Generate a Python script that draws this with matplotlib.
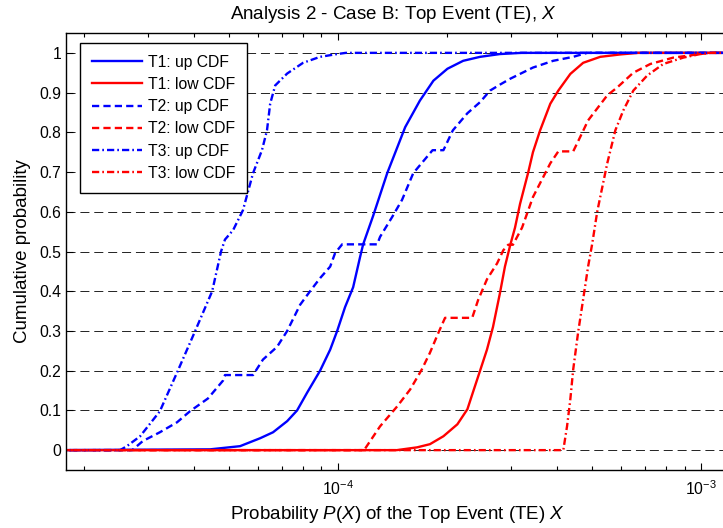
import matplotlib
matplotlib.use("Agg")
import matplotlib.pyplot as plt
from matplotlib.ticker import LogLocator, NullFormatter, FixedLocator, FixedFormatter

plt.rcParams['font.family'] = ['Liberation Sans', 'DejaVu Sans']
plt.rcParams['mathtext.fontset'] = 'custom'
plt.rcParams['mathtext.rm'] = 'Liberation Sans'
plt.rcParams['mathtext.it'] = 'Liberation Sans:italic'
plt.rcParams['lines.scale_dashes'] = False

# ---- data ----
t1_up_x = [1.7e-5, 4.44e-5, 5.37e-5, 6.10e-5, 6.62e-5, 7.24e-5, 7.71e-5, 8.22e-5, 8.92e-5, 9.51e-5,
           9.94e-5, 1.045e-4, 1.10e-4, 1.15e-4, 1.172e-4, 1.249e-4, 1.365e-4, 1.53e-4, 1.68e-4,
           1.83e-4, 2.00e-4, 2.21e-4, 2.46e-4, 2.79e-4, 3.2e-4, 1.3e-3]
t1_up_y = [0, 0.002, 0.01, 0.03, 0.045, 0.073, 0.10, 0.145, 0.20, 0.253, 0.30, 0.36, 0.41, 0.487,
           0.518, 0.59, 0.697, 0.813, 0.88, 0.93, 0.96, 0.98, 0.99, 0.997, 1.0, 1.0]

t1_low_x = [1.7e-5, 1.45e-4, 1.65e-4, 1.79e-4, 1.95e-4, 2.13e-4, 2.27e-4, 2.35e-4, 2.46e-4, 2.57e-4,
            2.67e-4, 2.79e-4, 2.88e-4, 2.98e-4, 3.07e-4, 3.17e-4, 3.34e-4, 3.44e-4, 3.60e-4, 3.84e-4,
            4.04e-4, 4.36e-4, 4.73e-4, 5.27e-4, 5.98e-4, 6.7e-4, 1.3e-3]
t1_low_y = [0, 0, 0.007, 0.015, 0.035, 0.065, 0.103, 0.145, 0.20, 0.253, 0.31, 0.395, 0.462, 0.517,
            0.56, 0.62, 0.70, 0.75, 0.805, 0.872, 0.905, 0.947, 0.975, 0.99, 0.996, 1.0, 1.0]

t2_up_x = [1.7e-5, 2.71e-5, 2.90e-5, 3.23e-5, 3.60e-5, 3.91e-5, 4.38e-5, 4.82e-5, 4.88e-5, 5.83e-5,
           6.21e-5, 6.79e-5, 7.24e-5, 7.86e-5, 8.37e-5, 8.92e-5, 9.51e-5, 9.81e-5, 1.026e-4, 1.281e-4,
           1.305e-4, 1.409e-4, 1.50e-4, 1.61e-4, 1.82e-4, 1.95e-4, 2.07e-4, 2.27e-4, 2.46e-4, 2.62e-4,
           2.79e-4, 2.98e-4, 3.44e-4, 3.91e-4, 4.44e-4, 4.85e-4, 1.3e-3]
t2_up_y = [0, 0, 0.023, 0.045, 0.07, 0.098, 0.13, 0.175, 0.189, 0.189, 0.228, 0.26, 0.30, 0.366,
           0.40, 0.433, 0.462, 0.496, 0.518, 0.518, 0.537, 0.587, 0.63, 0.697, 0.755, 0.755, 0.805,
           0.848, 0.876, 0.905, 0.92, 0.935, 0.963, 0.98, 0.99, 1.0, 1.0]

t2_low_x = [1.7e-5, 1.179e-4, 1.305e-4, 1.454e-4, 1.58e-4, 1.70e-4, 1.79e-4, 1.89e-4, 1.97e-4,
            2.34e-4, 2.43e-4, 2.57e-4, 2.74e-4, 2.85e-4, 2.94e-4, 3.03e-4, 3.21e-4, 3.44e-4,
            3.67e-4, 3.84e-4, 4.04e-4, 4.44e-4, 4.64e-4, 4.88e-4, 5.17e-4, 5.51e-4, 5.87e-4,
            6.50e-4, 7.24e-4, 8.37e-4, 9.75e-4, 1.05e-3, 1.3e-3]
t2_low_y = [0, 0, 0.06, 0.11, 0.153, 0.203, 0.245, 0.296, 0.333, 0.333, 0.378, 0.43, 0.47, 0.503,
            0.517, 0.517, 0.56, 0.637, 0.687, 0.722, 0.752, 0.752, 0.788, 0.83, 0.86, 0.893, 0.913,
            0.95, 0.972, 0.988, 0.996, 1.0, 1.0]

t3_up_x = [1.7e-5, 2.51e-5, 2.62e-5, 2.85e-5, 3.23e-5, 3.62e-5, 4.04e-5, 4.50e-5, 4.76e-5, 4.88e-5,
           5.14e-5, 5.47e-5, 5.83e-5, 6.17e-5, 6.37e-5, 6.50e-5, 6.71e-5, 7.24e-5, 8.01e-5, 8.92e-5,
           9.94e-5, 1.05e-4, 1.3e-3]
t3_up_y = [0, 0, 0.01, 0.035, 0.098, 0.2, 0.3, 0.4, 0.5, 0.53, 0.554, 0.604, 0.697, 0.755, 0.805,
           0.872, 0.918, 0.948, 0.975, 0.99, 0.997, 1.0, 1.0]

t3_low_x = [1.7e-5, 4.17e-4, 4.27e-4, 4.36e-4, 4.44e-4, 4.58e-4, 4.73e-4, 4.88e-4, 5.01e-4, 5.17e-4,
            5.27e-4, 5.51e-4, 5.80e-4, 6.10e-4, 6.50e-4, 7.10e-4, 7.86e-4, 8.92e-4, 9.94e-4,
            1.06e-3, 1.3e-3]
t3_low_y = [0, 0, 0.06, 0.128, 0.203, 0.296, 0.38, 0.462, 0.52, 0.60, 0.637, 0.722, 0.805, 0.855,
            0.905, 0.943, 0.972, 0.988, 0.997, 1.0, 1.0]

labels = ['T1: up CDF', 'T1: low CDF', 'T2: up CDF', 'T2: low CDF', 'T3: up CDF', 'T3: low CDF']
y_ticks = [0, 0.1, 0.2, 0.3, 0.4, 0.5, 0.6, 0.7, 0.8, 0.9, 1.0]
y_tick_labels = ['0', '0.1', '0.2', '0.3', '0.4', '0.5', '0.6', '0.7', '0.8', '0.9', '1']

# ---- figure ----
W, H = 723, 528
fig = plt.figure(figsize=(W / 100, H / 100), dpi=100)
ax = fig.add_axes([66 / W, 58 / H, 664 / W, 437 / H])

solid = '-'
dashed = (0, (5.2, 3.0))
dashdot = (0, (5.2, 2.2, 1.2, 2.2))
lw = 1.7
series = [
    (t1_up_x, t1_up_y, 'blue', solid),
    (t1_low_x, t1_low_y, 'red', solid),
    (t2_up_x, t2_up_y, 'blue', dashed),
    (t2_low_x, t2_low_y, 'red', dashed),
    (t3_up_x, t3_up_y, 'blue', dashdot),
    (t3_low_x, t3_low_y, 'red', dashdot),
]
for (xs, ys, c, ls), lab in zip(series, labels):
    ax.plot(xs, ys, color=c, linestyle=ls, linewidth=lw, label=lab)

ax.set_xscale('log')
ax.set_xlim(1.781e-5, 1.2e-3)
ax.set_ylim(-0.05, 1.05)

ax.yaxis.set_major_locator(FixedLocator(y_ticks))
ax.yaxis.set_major_formatter(FixedFormatter(y_tick_labels))
ax.xaxis.set_major_locator(LogLocator(base=10, numticks=10))
ax.xaxis.set_minor_locator(LogLocator(base=10, subs=range(2, 10), numticks=20))
ax.xaxis.set_minor_formatter(NullFormatter())

ax.tick_params(which='both', direction='in', top=True, right=True, labelsize=11.3, colors='black')
ax.tick_params(which='major', length=5, width=0.8, pad=3.5)
ax.tick_params(which='minor', length=3, width=0.8)
ax.tick_params(axis='x', which='major', pad=7)

for s in ['left', 'bottom', 'top', 'right']:
    ax.spines[s].set_linewidth(1.0)
    ax.spines[s].set_color('black')

ax.set_axisbelow(True)
ax.yaxis.grid(True, color='#222222', linestyle=(0, (6.5, 3.5)), linewidth=0.7)
ax.xaxis.grid(False)

ax.set_xlabel(r'Probability $\it{P}$($\it{X}$) of the Top Event (TE) $\it{X}$', fontsize=13.5, labelpad=4)
ax.set_ylabel('Cumulative probability', fontsize=13.5, labelpad=6)

fig.text(393 / W, 1 - 19 / H, r'Analysis 2 - Case B: Top Event (TE), $\it{X}$',
         ha='center', va='baseline', fontsize=13.5)

leg = ax.legend(loc='upper left', bbox_to_anchor=(14 / 664, 1 - 10 / 437), borderaxespad=0,
                fontsize=11.3, frameon=True, fancybox=False, framealpha=1, edgecolor='black',
                handlelength=3.2, handletextpad=0.4, labelspacing=0.46, borderpad=0.75)
leg.get_frame().set_linewidth(1.0)

fig.savefig('out.png', dpi=100)
